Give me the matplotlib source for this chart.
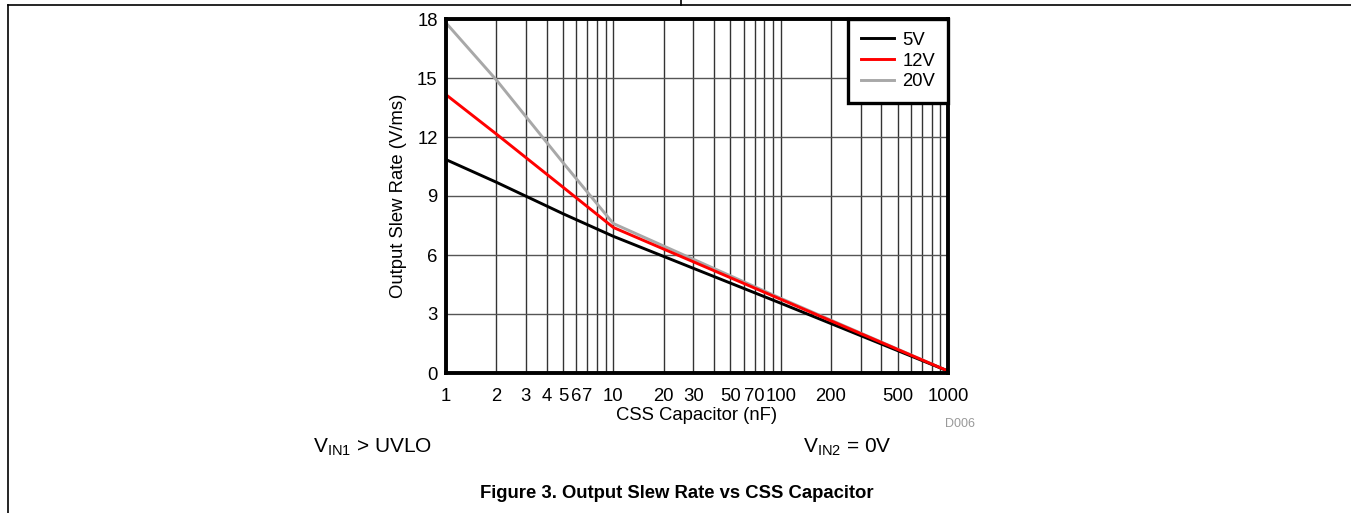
import matplotlib
matplotlib.use("Agg")
import matplotlib.pyplot as plt
from matplotlib.lines import Line2D
from matplotlib.ticker import FixedLocator, NullFormatter

plt.rcParams['font.family'] = ['Liberation Sans', 'DejaVu Sans']
plt.rcParams['mathtext.fontset'] = 'custom'
plt.rcParams['mathtext.rm'] = 'Liberation Sans'
plt.rcParams['mathtext.it'] = 'Liberation Sans'

# Data
css_nf = [1, 2, 5, 10, 100, 1000]
slew_5v = [10.85, 9.7, 8.1, 6.95, 3.55, 0.1]
slew_12v = [14.15, 12.15, 9.45, 7.4, 3.75, 0.1]
slew_20v = [17.8, 14.9, 10.7, 7.6, 3.8, 0.1]
series_labels = ['5V', '12V', '20V']
xtick_vals = [1, 2, 3, 4, 5, 6, 7, 10, 20, 30, 50, 70, 100, 200, 500, 1000]
xtick_labels = ['1', '2', '3', '4', '5', '6', '7', '10', '20', '30', '50', '70', '100', '200', '500', '1000']
ytick_vals = [0, 3, 6, 9, 12, 15, 18]

W, H = 1351, 513
FS = 13.3
fig = plt.figure(figsize=(W / 100, H / 100), dpi=100)

ax = fig.add_axes([446 / W, 1 - 373 / H, (948 - 446) / W, (373 - 19) / H])
ax.set_xscale('log')
ax.set_xlim(1, 1000)
ax.set_ylim(0, 18)

# grid
grid_x = [m * 10 ** e for e in range(0, 3) for m in range(1, 10)] + [1000]
for gx in grid_x:
    ax.axvline(gx, color='#333333', lw=1.0, zorder=1)
for gy in ytick_vals:
    ax.axhline(gy, color='#555555', lw=1.0, zorder=1)

ax.plot(css_nf, slew_20v, color='#a8a8a8', lw=2.1, label=series_labels[2], zorder=2.9)
ax.plot(css_nf, slew_5v, color='black', lw=2.1, label=series_labels[0], zorder=3)
ax.plot(css_nf, slew_12v, color='#ff0000', lw=2.1, label=series_labels[1], zorder=3.1)

ax.xaxis.set_major_locator(FixedLocator(xtick_vals))
ax.set_xticks(xtick_vals)
ax.set_xticklabels(xtick_labels)
ax.xaxis.set_minor_formatter(NullFormatter())
ax.xaxis.set_minor_locator(FixedLocator([]))
ax.set_yticks(ytick_vals)
ax.tick_params(axis='both', length=0, labelsize=FS, pad=6)
ax.tick_params(axis='x', pad=10.5)

for s in ax.spines.values():
    s.set_linewidth(2.8)
    s.set_color('black')
    s.set_zorder(5)

ax.set_xlabel('CSS Capacitor (nF)', fontsize=FS, labelpad=1.5)
ax.set_ylabel('Output Slew Rate (V/ms)', fontsize=FS, labelpad=7)

handles, labels = ax.get_legend_handles_labels()
order = [labels.index(l) for l in series_labels]
leg = ax.legend([handles[i] for i in order], [labels[i] for i in order],
                loc='upper right', borderaxespad=0, fancybox=False,
                edgecolor='black', fontsize=FS, handlelength=1.8,
                handletextpad=0.45, borderpad=0.7, labelspacing=0.2,
                framealpha=1)
leg.get_frame().set_linewidth(2.4)
leg.set_zorder(6)

# page frame lines
fig.add_artist(Line2D([8 / W, 1], [1 - 5 / H, 1 - 5 / H], color='black', lw=1.2))
fig.add_artist(Line2D([8 / W, 8 / W], [0, 1 - 5 / H], color='black', lw=1.2))
fig.add_artist(Line2D([681 / W, 681 / W], [1 - 5 / H, 1], color='black', lw=1.2))

fig.text(975 / W, 1 - 424 / H, 'D006', color='#999999', fontsize=9, ha='right', va='center')
fig.text(313 / W, 1 - 447 / H, r'V$_{\mathrm{IN1}}$ > UVLO', fontsize=15, ha='left', va='center')
fig.text(803 / W, 1 - 447 / H, r'V$_{\mathrm{IN2}}$ = 0V', fontsize=15, ha='left', va='center')
fig.text(677 / W, 1 - 494 / H, 'Figure 3. Output Slew Rate vs CSS Capacitor', fontsize=13.3,
         fontweight='bold', ha='center', va='center')

fig.savefig('out.png', dpi=100)
